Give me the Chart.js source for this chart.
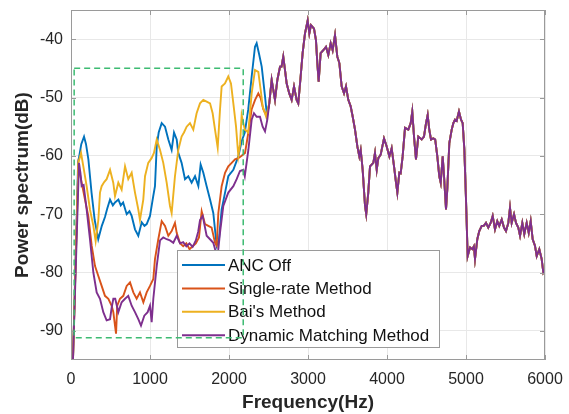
<!DOCTYPE html>
<html>
<head>
<meta charset="utf-8">
<script src="https://cdn.jsdelivr.net/npm/chart.js@4.4.0/dist/chart.umd.min.js"></script>
<style>
html,body{margin:0;padding:0;background:#fff;}
#wrap{width:569px;height:414px;position:relative;}
</style>
</head>
<body>
<div id="wrap"><canvas id="c"></canvas></div>
<script>
// ---------- data ----------
const seriesNames = ["ANC Off", "Single-rate Method", "Bai's Method", "Dynamic Matching Method"];
const xTicks = [0, 1000, 2000, 3000, 4000, 5000, 6000];
const yTicks = [-90, -80, -70, -60, -50, -40];

// ANC Off (low-frequency part)
const ancOffF = [0, 25, 90, 130, 165, 190, 220, 260, 300, 345, 390, 430, 460, 494, 530, 557, 600, 630, 660, 705, 740, 768, 810, 852, 895, 930, 958, 1000, 1040, 1063, 1085, 1110, 1148, 1190, 1232, 1274, 1304, 1338, 1358, 1400, 1443, 1485, 1527, 1570, 1612, 1641, 1675, 1717, 1760, 1801, 1844, 1873, 1907, 1950, 1991, 2055, 2118, 2160, 2200, 2244, 2287, 2329, 2350, 2380, 2414, 2456, 2480];
const ancOffV = [-100, -95, -61.2, -58, -56.7, -58, -60.6, -66.3, -71, -74.3, -72, -70.5, -69, -67.5, -68.5, -68, -67.5, -68.5, -68, -70, -69.5, -70.3, -72.6, -73.7, -71.4, -72, -71.7, -70.3, -67, -65.2, -58.4, -56, -54.4, -55, -57.2, -59, -56, -57.2, -59.5, -61.2, -64, -63.5, -64.6, -63.5, -65.2, -61.5, -62.9, -65.2, -67.5, -69.8, -75.4, -74.3, -69.2, -66.3, -63.5, -62.4, -60.1, -57.5, -56, -52, -46.4, -41.3, -40.7, -42.5, -44.7, -49.8, -53];

// Single-rate Method (low-frequency part)
const singleF = [0, 25, 93, 135, 177, 219, 262, 304, 346, 388, 430, 473, 515, 536, 557, 570, 585, 620, 662, 705, 747, 789, 831, 873, 916, 958, 1000, 1042, 1063, 1105, 1148, 1190, 1232, 1274, 1316, 1338, 1380, 1420, 1460, 1500, 1540, 1580, 1620, 1654, 1696, 1738, 1780, 1823, 1844, 1865, 1907, 1950, 1991, 2034, 2076, 2118, 2160, 2203, 2245, 2287, 2330, 2371, 2401, 2434, 2480];
const singleV = [-100, -95, -61.8, -64.6, -67.5, -70.3, -75.4, -78.9, -80.6, -82.3, -84, -84.5, -85.7, -86.8, -89.1, -90.5, -85.7, -84.5, -84, -82.3, -81.7, -83.4, -84.5, -83.4, -85.1, -83.4, -82.3, -81.1, -77.7, -74.3, -71.2, -72, -73.7, -72.9, -71.5, -73.2, -75, -75.5, -75, -76, -75.5, -75, -74, -69.5, -71.7, -72, -72.3, -74.9, -75.4, -69.8, -65.2, -62.9, -61.8, -61.2, -60.6, -60.4, -60, -59.5, -56, -52, -50.4, -49.3, -50.1, -52, -53.3];

// Bai's Method (low-frequency part)
const baiF = [0, 25, 93, 127, 156, 198, 240, 283, 312, 346, 367, 388, 420, 451, 494, 535, 557, 599, 641, 684, 725, 768, 810, 852, 873, 915, 937, 978, 1020, 1050, 1085, 1127, 1168, 1211, 1253, 1274, 1316, 1358, 1400, 1430, 1464, 1506, 1548, 1590, 1633, 1675, 1717, 1760, 1793, 1823, 1857, 1886, 1907, 1949, 1991, 2025, 2055, 2089, 2118, 2140, 2160, 2200, 2244, 2287, 2329, 2371, 2401, 2426, 2470];
const baiV = [-100, -95, -61.2, -59.5, -61.8, -65.2, -69.2, -72, -74.6, -71, -66.3, -65.2, -64.5, -64, -62.4, -64.6, -66.9, -64.6, -65.8, -61.8, -64, -62.9, -66.3, -69.2, -71, -67.5, -63.5, -61.2, -60.4, -59.5, -57.2, -59, -61.2, -64.6, -68.6, -69.8, -63.5, -59, -56.7, -56, -55, -54.4, -55.5, -52.7, -51, -50.4, -50.7, -51, -52.7, -55.5, -58.6, -52.1, -48.1, -47.6, -46.4, -47.6, -51, -55, -60, -58, -53, -55.5, -56, -49.3, -45.3, -45.6, -48.7, -51.5, -53.3];

// Dynamic Matching Method (low-frequency part)
const dynF = [0, 25, 101, 120, 135, 160, 198, 240, 283, 325, 367, 409, 451, 494, 515, 536, 560, 599, 641, 684, 725, 768, 810, 852, 886, 928, 970, 1000, 1021, 1042, 1085, 1127, 1168, 1211, 1253, 1295, 1338, 1380, 1420, 1460, 1500, 1540, 1580, 1610, 1633, 1667, 1717, 1760, 1801, 1844, 1865, 1886, 1928, 1991, 2055, 2097, 2139, 2181, 2200, 2245, 2287, 2316, 2350, 2392, 2426, 2456, 2485];
const dynV = [-100, -95, -61.2, -63, -65.2, -65, -69.2, -74.3, -80, -83.4, -84.5, -86.8, -88.2, -88, -86, -84.5, -84.5, -86.8, -85.1, -84.5, -84, -85.7, -86.8, -88, -89.1, -87.4, -86.8, -85.7, -88.5, -84.5, -78.9, -74.5, -74, -74.3, -74.5, -74.9, -73.7, -75, -74.8, -75.5, -75, -75.6, -74.5, -73, -71, -70.3, -73.7, -74.3, -74.9, -77, -76, -73.2, -68.6, -66.3, -65.2, -64, -62.6, -62.4, -63.5, -59, -53.8, -52.7, -53.3, -53.3, -55, -55.8, -53.8];

// Common high-frequency part (all methods coincide above ~2.5 kHz)
const tailF = [2510, 2540, 2561, 2582, 2612, 2646, 2665, 2687, 2709, 2730, 2763, 2793, 2823, 2856, 2877, 2907, 2932, 2962, 2996, 3017, 3038, 3076, 3101, 3118, 3135, 3160, 3194, 3228, 3257, 3287, 3312, 3342, 3371, 3397, 3426, 3456, 3481, 3510, 3540, 3566, 3595, 3625, 3650, 3667, 3692, 3722, 3737, 3763, 3785, 3827, 3848, 3870, 3890, 3920, 3962, 3996, 4030, 4059, 4089, 4114, 4131, 4156, 4173, 4198, 4228, 4270, 4300, 4320, 4342, 4367, 4396, 4439, 4468, 4494, 4515, 4535, 4557, 4586, 4610, 4637, 4662, 4680, 4705, 4722, 4747, 4763, 4789, 4819, 4840, 4861, 4882, 4911, 4937, 4958, 4979, 5000, 5021, 5051, 5080, 5100, 5114, 5143, 5168, 5199, 5225, 5253, 5282, 5312, 5338, 5367, 5396, 5421, 5452, 5481, 5506, 5536, 5557, 5578, 5608, 5633, 5662, 5684, 5713, 5738, 5768, 5794, 5819, 5844, 5873, 5895, 5928, 5958, 5979, 6000];
const tailV = [-51, -47, -48.7, -50.4, -47, -44.7, -44.7, -43, -45.3, -47.6, -49.3, -50.4, -48.1, -50.4, -51, -46.4, -42.4, -39, -36.8, -39, -37.6, -38.2, -40.2, -44.1, -47.3, -42.4, -41.9, -41.3, -42.7, -40.7, -41.9, -39.3, -43, -44.1, -48.1, -49.3, -48.1, -50.4, -51.5, -53.3, -55.5, -58.4, -60.1, -59, -62.4, -68.6, -70, -66.3, -61.8, -61.2, -59.5, -62.4, -60.4, -59.8, -57, -58.4, -60.1, -58.7, -61.8, -64.6, -66.3, -62.9, -63, -60.1, -55.2, -55.5, -54.4, -52.4, -56.7, -60.6, -56.7, -57.2, -56.7, -54.4, -53, -55.5, -57.2, -57, -57.2, -60.1, -63.5, -64.6, -60.1, -63.5, -69.2, -65.8, -57.8, -55.5, -54.4, -53.8, -54, -52.4, -53.8, -54.4, -58.9, -67.5, -77.2, -75.7, -76, -75.5, -77.7, -74.3, -72.9, -72, -72, -71.5, -72.3, -71.5, -70.3, -72.6, -71.2, -72, -70.9, -72.3, -72.9, -71.5, -68.9, -71.5, -70, -71.5, -72.3, -73.7, -71.5, -73.4, -71.5, -73.2, -71.2, -74.3, -75.4, -77.2, -76, -77.7, -80, -79.5];

// Highlighted region (dashed rectangle), in data units
const boxF = [40, 2180];
const boxV = [-91.2, -45];

// ---------- styles ----------
const colors = ['#0072BD', '#D95319', '#EDB120', '#7E2F8E'];
const FONT = "'Liberation Sans', Arial, Helvetica, sans-serif";
const TXT = '#262626';
const FRAME = '#9a9a9a';

function pts(F, V) {
  const xs = F.concat(tailF), ys = V.concat(tailV);
  return xs.map((x, i) => ({x: x, y: ys[i]}));
}
const lows = [[ancOffF, ancOffV], [singleF, singleV], [baiF, baiV], [dynF, dynV]];

const datasets = lows.map((p, i) => ({
  label: seriesNames[i],
  data: pts(p[0], p[1]),
  borderColor: colors[i],
  backgroundColor: colors[i],
  borderWidth: 1.9,
  pointRadius: 0,
  tension: 0,
  fill: false,
  order: 3 - i
}));

function zeroPad(s) { s.paddingTop = 0; s.paddingBottom = 0; s.paddingLeft = 0; s.paddingRight = 0; }

const framePlugin = {
  id: 'frame',
  afterDatasetsDraw(chart) {
    const {ctx, chartArea: a, scales: {x, y}} = chart;
    ctx.save();
    ctx.strokeStyle = FRAME;
    ctx.lineWidth = 1;
    ctx.strokeRect(Math.round(a.left) + 0.5, Math.round(a.top) + 0.5, Math.round(a.right - a.left) - 1, Math.round(a.bottom - a.top) - 1);
    ctx.beginPath();
    const tl = 5;
    yTicks.forEach(v => {
      const py = Math.round(y.getPixelForValue(v)) + 0.5;
      ctx.moveTo(a.left, py); ctx.lineTo(a.left + tl, py);
      ctx.moveTo(a.right, py); ctx.lineTo(a.right - tl, py);
    });
    xTicks.forEach(v => {
      const px = Math.round(x.getPixelForValue(v)) + 0.5;
      ctx.moveTo(px, a.bottom); ctx.lineTo(px, a.bottom - tl);
      ctx.moveTo(px, a.top); ctx.lineTo(px, a.top + tl);
    });
    ctx.stroke();

    // legend box
    const lx = 177, ly = 250, lw = 262, lh = 97;
    ctx.fillStyle = '#fff';
    ctx.fillRect(lx, ly, lw, lh);
    ctx.strokeStyle = FRAME;
    ctx.strokeRect(lx + 0.5, ly + 0.5, lw, lh);
    ctx.font = '17px ' + FONT;
    ctx.textBaseline = 'middle';
    ctx.textAlign = 'left';
    seriesNames.forEach((n, i) => {
      const ry = ly + 15 + i * 23.4;
      ctx.strokeStyle = colors[i];
      ctx.lineWidth = 2;
      ctx.beginPath();
      ctx.moveTo(lx + 5, ry); ctx.lineTo(lx + 48, ry);
      ctx.stroke();
      ctx.fillStyle = '#111';
      ctx.fillText(n, lx + 51, ry + 1);
    });

    // dashed highlight rectangle
    const x0 = x.getPixelForValue(boxF[0]), x1 = x.getPixelForValue(boxF[1]);
    const y0 = y.getPixelForValue(boxV[0]), y1 = y.getPixelForValue(boxV[1]);
    ctx.strokeStyle = '#3DBB72';
    ctx.lineWidth = 1.5;
    ctx.setLineDash([6, 4]);
    ctx.strokeRect(x0, y1, x1 - x0, y0 - y1);
    ctx.restore();
  }
};

new Chart(document.getElementById('c'), {
  type: 'line',
  data: {datasets},
  options: {
    responsive: true,
    maintainAspectRatio: false,
    animation: false,
    parsing: true,
    layout: {padding: {left: 0, top: 10, right: 24, bottom: 0}},
    plugins: {legend: {display: false}, tooltip: {enabled: false}},
    scales: {
      x: {
        type: 'linear', min: 0, max: 6000,
        afterBuildTicks: s => { s.ticks = xTicks.map(v => ({value: v})); },
        afterFit: s => { s.height = 54; zeroPad(s); },
        grid: {color: '#e8e8e8', drawTicks: false},
        border: {display: false},
        ticks: {color: TXT, font: {family: FONT, size: 16}, padding: 10, maxRotation: 0, callback: v => String(v)},
        title: {display: true, text: 'Frequency(Hz)', color: TXT, font: {family: FONT, size: 19, weight: 'bold'}, padding: {top: 0, bottom: 0}}
      },
      y: {
        type: 'linear', min: -95, max: -35,
        afterBuildTicks: s => { s.ticks = yTicks.map(v => ({value: v})); },
        afterFit: s => { s.width = 71; zeroPad(s); },
        grid: {color: '#e8e8e8', drawTicks: false},
        border: {display: false},
        ticks: {color: TXT, font: {family: FONT, size: 16}, padding: 8, callback: v => String(v)},
        title: {display: true, text: 'Power spectrum(dB)', color: TXT, font: {family: FONT, size: 19, weight: 'bold'}, padding: {top: 11, bottom: 0}}
      }
    }
  },
  plugins: [framePlugin]
});
</script>
</body>
</html>
